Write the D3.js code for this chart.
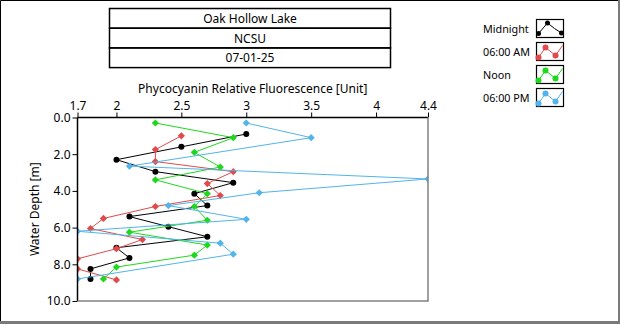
<!DOCTYPE html>
<html><head><meta charset="utf-8">
<script src="https://cdn.jsdelivr.net/npm/d3@7"></script>
<style>
html,body{margin:0;padding:0;background:#fff;}
svg{display:block;}
text{font-family:"Noto Sans","Open Sans",sans-serif;}
</style></head>
<body>
<svg id="chart" width="620" height="324"></svg>
<script>
// ---- data ----
const titleLines = ["Oak Hollow Lake", "NCSU", "07-01-25"];
const seriesNames = ["Midnight", "06:00 AM", "Noon", "06:00 PM"];
const seriesColors = ["#000000", "#e04a4a", "#1ed81e", "#52b4ea"];
const xTicks = [1.7, 2, 2.5, 3, 3.5, 4, 4.4];
const yTicks = [0, 2, 4, 6, 8, 10];
const xTitle = "Phycocyanin Relative Fluorescence [Unit]";
const yTitle = "Water Depth [m]";

// depth [m]
const midnightDepth = [0.9, 1.6, 2.3, 2.95, 3.55, 4.15, 4.8, 5.4, 5.95, 6.5, 7.1, 7.65, 8.25, 8.8];
const midnightValue = [3.0, 2.5, 2.0, 2.3, 2.9, 2.6, 2.7, 2.1, 2.4, 2.7, 2.0, 2.1, 1.8, 1.8];
const amDepth = [1.0, 1.75, 2.4, 2.95, 3.6, 4.25, 4.85, 5.5, 6.05, 6.65, 7.15, 7.7, 8.25, 8.85];
const amValue = [2.5, 2.3, 2.3, 2.9, 2.7, 2.8, 2.3, 1.9, 1.8, 2.2, 2.0, 1.7, 1.7, 2.0];
const noonDepth = [0.3, 1.1, 1.9, 2.7, 3.4, 4.15, 4.85, 5.6, 6.25, 6.95, 7.5, 8.15, 8.8];
const noonValue = [2.3, 2.9, 2.6, 2.8, 2.3, 2.7, 2.6, 2.7, 2.1, 2.7, 2.6, 2.0, 1.9];
const pmDepth = [0.3, 1.1, 2.65, 3.35, 4.1, 4.8, 5.55, 6.2, 6.85, 7.45, 8.8];
const pmValue = [3.0, 3.5, 2.1, 4.4, 3.1, 2.4, 3.0, 1.7, 2.8, 2.9, 1.7];

const seriesDepths = [midnightDepth, amDepth, noonDepth, pmDepth];
const seriesValues = [midnightValue, amValue, noonValue, pmValue];

// ---- layout ----
const svg = d3.select("#chart");
const W = 620, H = 324;
const plot = {left: 77.5, right: 428, top: 117.5, bottom: 301};

// outer frame
svg.append("rect").attr("x",0).attr("y",0).attr("width",W).attr("height",H).attr("fill","#fff");
svg.append("line").attr("x1",0.5).attr("y1",0.5).attr("x2",W).attr("y2",0.5).attr("stroke","#000");
svg.append("line").attr("x1",0.5).attr("y1",0.5).attr("x2",0.5).attr("y2",H).attr("stroke","#000");
svg.append("rect").attr("x",0).attr("y",321).attr("width",W).attr("height",3).attr("fill","#7a7a7a");
svg.append("rect").attr("x",618).attr("y",0).attr("width",2).attr("height",H).attr("fill","#7a7a7a");

// title boxes
const tb = {x: 109.5, w: 281, y0: 8.5, h: 19.7};
titleLines.forEach((t,i)=>{
  const y = tb.y0 + i*tb.h;
  svg.append("rect").attr("x",tb.x).attr("y",y).attr("width",tb.w).attr("height",tb.h)
    .attr("fill","none").attr("stroke","#000").attr("stroke-width",1.5);
  svg.append("text").attr("x",tb.x+tb.w/2).attr("y",y+tb.h/2+4.5).attr("text-anchor","middle")
    .attr("font-size",12).attr("fill","#000").text(t);
});

// scales
const x = d3.scaleLinear().domain([1.7,4.4]).range([plot.left, plot.right]);
const y = d3.scaleLinear().domain([0,10]).range([plot.top, plot.bottom]);

// axes
const xAxis = d3.axisTop(x).tickValues(xTicks).tickSize(5).tickPadding(3)
  .tickFormat(d=>String(d));
const gx = svg.append("g").attr("transform",`translate(0,${plot.top})`).call(xAxis);
gx.select(".domain").remove();
gx.selectAll("text").attr("font-size",12).attr("fill","#000").attr("font-family","'Noto Sans',sans-serif");
gx.selectAll("line").attr("stroke","#000");

const yAxis = d3.axisLeft(y).tickValues(yTicks).tickSize(5).tickPadding(2)
  .tickFormat(d3.format(".1f"));
const gy = svg.append("g").attr("transform",`translate(${plot.left},0)`).call(yAxis);
gy.select(".domain").remove();
gy.selectAll("text").attr("font-size",12).attr("fill","#000").attr("font-family","'Noto Sans',sans-serif");
gy.selectAll("line").attr("stroke","#000");

// axis titles
svg.append("text").attr("x",(plot.left+plot.right)/2).attr("y",93).attr("text-anchor","middle")
  .attr("font-size",12).text(xTitle);
svg.append("text").attr("transform",`translate(39,${(plot.top+plot.bottom)/2}) rotate(-90)`)
  .attr("text-anchor","middle").attr("font-size",12).text(yTitle);

// clip
svg.append("clipPath").attr("id","clip").append("rect")
  .attr("x",plot.left).attr("y",plot.top).attr("width",plot.right-plot.left).attr("height",plot.bottom-plot.top);

const g = svg.append("g").attr("clip-path","url(#clip)");
const line = d3.line().x(d=>x(d.v)).y(d=>y(d.d));
const diamond = "M0,-3.6L3.6,0L0,3.6L-3.6,0Z";

seriesNames.forEach((name,si)=>{
  const pts = seriesDepths[si].map((dd,i)=>({d:dd, v:seriesValues[si][i]}));
  const col = seriesColors[si];
  g.append("path").datum(pts).attr("d",line).attr("fill","none").attr("stroke",col).attr("stroke-width",1);
  if (si===0) {
    g.selectAll(null).data(pts).enter().append("circle")
      .attr("cx",d=>x(d.v)).attr("cy",d=>y(d.d)).attr("r",3).attr("fill",col);
  } else {
    g.selectAll(null).data(pts).enter().append("path")
      .attr("d",diamond).attr("transform",d=>`translate(${x(d.v)},${y(d.d)})`).attr("fill",col);
  }
});

// plot frame
svg.append("line").attr("x1",plot.left).attr("y1",plot.top).attr("x2",plot.right).attr("y2",plot.top).attr("stroke","#000").attr("stroke-width",1.5);
svg.append("line").attr("x1",plot.left).attr("y1",plot.top).attr("x2",plot.left).attr("y2",plot.bottom).attr("stroke","#000").attr("stroke-width",1.5);
svg.append("line").attr("x1",plot.right).attr("y1",plot.top).attr("x2",plot.right).attr("y2",plot.bottom+0.75).attr("stroke","#808080").attr("stroke-width",1.5);
svg.append("line").attr("x1",plot.left).attr("y1",plot.bottom).attr("x2",plot.right).attr("y2",plot.bottom).attr("stroke","#808080").attr("stroke-width",1.5);

// legend
const lg = {labelLeft: 483, maxW: 47, boxX: 536.5, boxW: 27, boxH: 18, y0: 19.5, step: 23};
const labels = [];
seriesNames.forEach((name,si)=>{
  const by = lg.y0 + si*lg.step;
  const col = seriesColors[si];
  labels.push(svg.append("text").attr("x",lg.labelLeft).attr("y",by+13).attr("text-anchor","start")
    .attr("font-size",12).text(name));
  svg.append("rect").attr("x",lg.boxX).attr("y",by).attr("width",lg.boxW).attr("height",lg.boxH)
    .attr("fill","#fff").attr("stroke","#000").attr("stroke-width",1.2);
  const ip = si===0
    ? [[lg.boxX+2,by+14],[lg.boxX+11,by+3.5],[lg.boxX+18,by+9],[lg.boxX+25,by+13.5]]
    : [[lg.boxX+2,by+15],[lg.boxX+9,by+5],[lg.boxX+19,by+13],[lg.boxX+26,by+3]];
  svg.append("path").attr("d",d3.line()(ip)).attr("fill","none").attr("stroke",col).attr("stroke-width",1);
  const mk = si===0 ? [ip[0],ip[1],ip[3]] : [ip[0],ip[1],ip[2]];
  mk.forEach(p=>{
    svg.append("circle").attr("cx",p[0]).attr("cy",p[1]).attr("r",si===0?2.5:3).attr("fill",col);
  });
});
const widest = d3.max(labels, t => t.node().getComputedTextLength());
if (widest > lg.maxW) {
  const fs = 12 * lg.maxW / widest;
  labels.forEach(t => t.attr("font-size", fs));
}
</script>
</body></html>
